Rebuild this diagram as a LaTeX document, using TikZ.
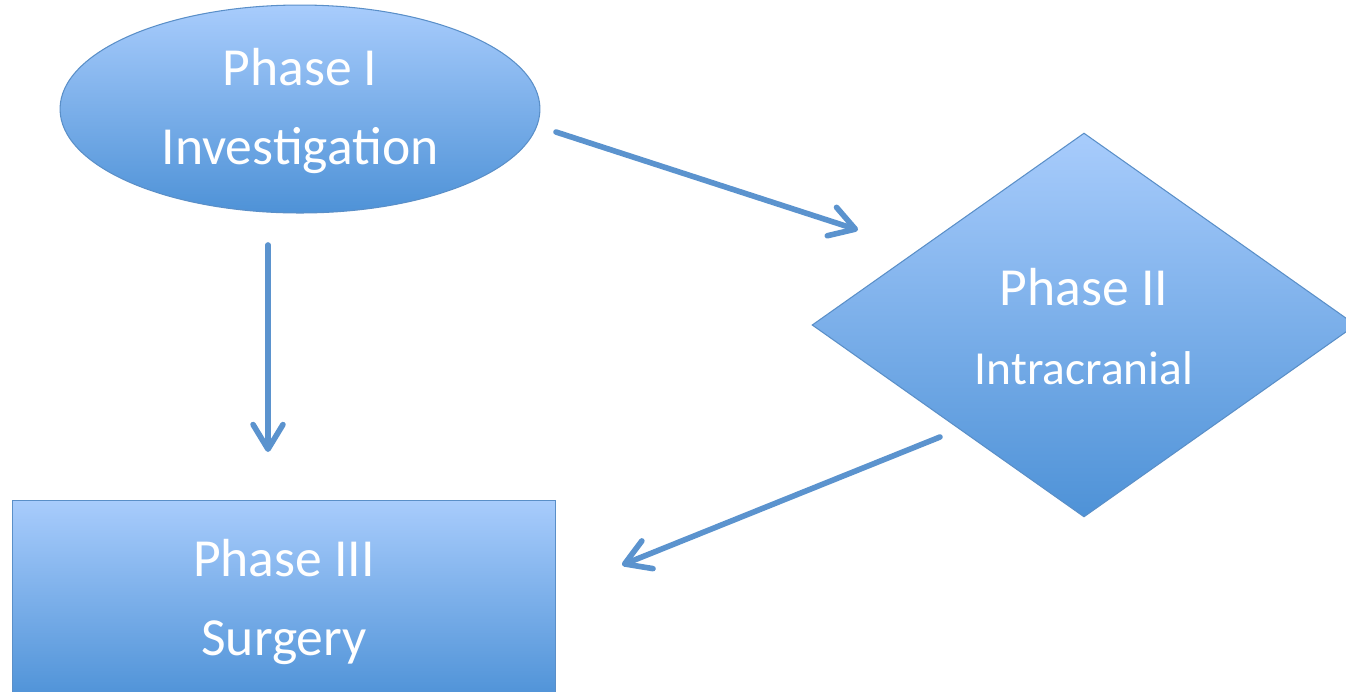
\documentclass[tikz,border=0pt]{standalone}
\usepackage{fontspec}
\setmainfont{Carlito}
\usetikzlibrary{shapes.geometric,arrows.meta}
\definecolor{topblue}{HTML}{A8CCFC}
\definecolor{botblue}{HTML}{4E92D7}
\definecolor{edgeblue}{HTML}{5A8FC8}
\definecolor{arrowblue}{HTML}{5B93CE}
\tikzset{
    phase/.style = {draw=edgeblue, line width=0.6pt, top color=topblue, bottom color=botblue,
        text=white, inner sep=0pt, font=\fontsize{30.5}{45}\selectfont},
    link/.style = {arrowblue, line width=3.2pt, line cap=round,
        -{Straight Barb[length=14pt,width=17pt,round]}}
}
\begin{document}
\begin{tikzpicture}[x=0.02cm,y=-0.02cm]
        \useasboundingbox (0,0) rectangle (1346,691);
        \node[phase, ellipse, inner sep=-8pt, minimum width=9.6cm, minimum height=4.16cm] (1) at (300,109) {
            \begin{tabular}{c}
                Phase I \\
                Investigation \\
            \end{tabular}
        };
        \node[phase, diamond, aspect=1.42, minimum width=10.88cm, minimum height=7.68cm] (2) at (1084,325) {
            \begin{tabular}{c}
                \rule{0pt}{36pt}Phase II \\
                \fontsize{27}{45}\selectfont Intracranial \\
            \end{tabular}
        };
        \node[phase, rectangle, minimum width=10.88cm, minimum height=4cm] (3) at (284,600) {
            \begin{tabular}{c}
                Phase III \\
                Surgery \\
            \end{tabular}
        };
        \coordinate (1a) at (556,132);
        \coordinate (2a) at (858,230);
        \coordinate (1b) at (268,245);
        \coordinate (3b) at (268,452);
        \coordinate (2c) at (940,437);
        \coordinate (3c) at (622,565);
        \draw[link] (1a) -- (2a);
        \draw[link] (1b) -- (3b);
        \draw[link] (2c) -- (3c);
    \end{tikzpicture}
\end{document}
